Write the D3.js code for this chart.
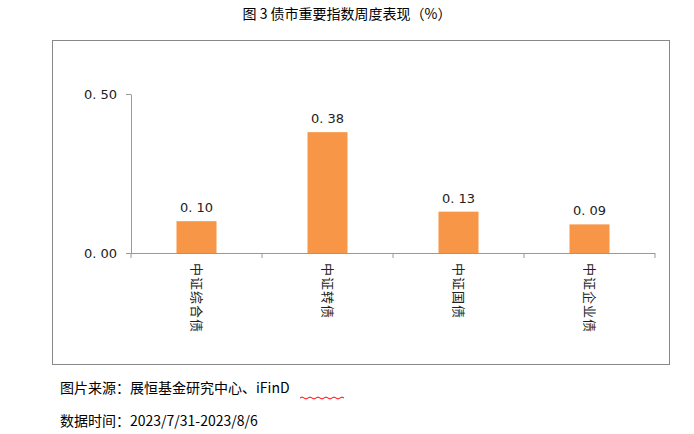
<!DOCTYPE html>
<html><head><meta charset="utf-8">
<script src="https://cdn.jsdelivr.net/npm/d3@7"></script>
<style>body{margin:0;background:#fff}</style>
</head><body><svg id="c" width="694" height="434" font-family='"Noto Sans CJK SC",sans-serif'></svg>
<script>
const categories = ['中证综合债', '中证转债', '中证国债', '中证企业债'];
const values = [0.10, 0.38, 0.13, 0.09];
const yTicks = [0, 0.5];

const svg = d3.select('#c');
svg.append('text').attr('x', 347).attr('y', 19).attr('text-anchor', 'middle')
  .style('font-size', '14px').attr('fill', '#000').text('图 3  债市重要指数周度表现（%）');
svg.append('rect').attr('x', 52.5).attr('y', 40.5).attr('width', 617).attr('height', 324)
  .attr('fill', 'none').attr('stroke', '#888');

const x = d3.scaleBand().domain(categories).range([131, 655]);
const y = d3.scaleLinear().domain([0, 0.5]).range([253, 94]);

const yAxis = svg.append('g').attr('transform', 'translate(131,0)')
  .call(d3.axisLeft(y).tickValues(yTicks).tickFormat(d => d.toFixed(2).replace('.', '. ')).tickSize(5).tickSizeOuter(0));
yAxis.select('.domain').attr('stroke', '#999');
yAxis.selectAll('line').attr('stroke', '#999');
yAxis.selectAll('text').style('font-family', 'DejaVu Sans').style('font-size', '13px').attr('fill', '#222').attr('dx', -6);

svg.append('line').attr('x1', 131).attr('x2', 655).attr('y1', 253.5).attr('y2', 253.5).attr('stroke', '#999');
svg.selectAll('.tk').data(d3.range(categories.length + 1)).enter().append('line')
  .attr('x1', i => 131 + i * x.bandwidth()).attr('x2', i => 131 + i * x.bandwidth())
  .attr('y1', 253).attr('y2', 258).attr('stroke', '#999');

const bw = 40;
svg.selectAll('.bar').data(values).enter().append('rect')
  .attr('x', (d, i) => x(categories[i]) + x.bandwidth() / 2 - bw / 2)
  .attr('y', d => y(d)).attr('width', bw).attr('height', d => 253 - y(d))
  .attr('fill', '#F79646');
svg.selectAll('.lbl').data(values).enter().append('text')
  .attr('x', (d, i) => x(categories[i]) + x.bandwidth() / 2).attr('y', d => y(d) - 9)
  .attr('text-anchor', 'middle').style('font-family', 'DejaVu Sans').style('font-size', '13px').attr('fill', '#222')
  .text(d => d.toFixed(2).replace('.', '. '));
svg.selectAll('.cat').data(categories).enter().append('text')
  .attr('transform', d => `translate(${x(d) + x.bandwidth() / 2 - 5},263) rotate(90)`)
  .style('font-size', '13px').attr('fill', '#222').attr('letter-spacing', 1)
  .text(d => d);

svg.append('text').attr('x', 60).attr('y', 393).style('font-size', '14px').attr('fill', '#000').text('图片来源：展恒基金研究中心、iFinD');
svg.append('path').attr('d', 'M300,398 q2,-2 4,0 t4,0 t4,0 t4,0 t4,0 t4,0 t4,0 t4,0 t4,0 t4,0 t4,0')
  .attr('fill', 'none').attr('stroke', 'red').attr('stroke-width', 1);
svg.append('text').attr('x', 60).attr('y', 426).style('font-size', '14px').attr('fill', '#000').text('数据时间：2023/7/31-2023/8/6');
</script></body></html>
